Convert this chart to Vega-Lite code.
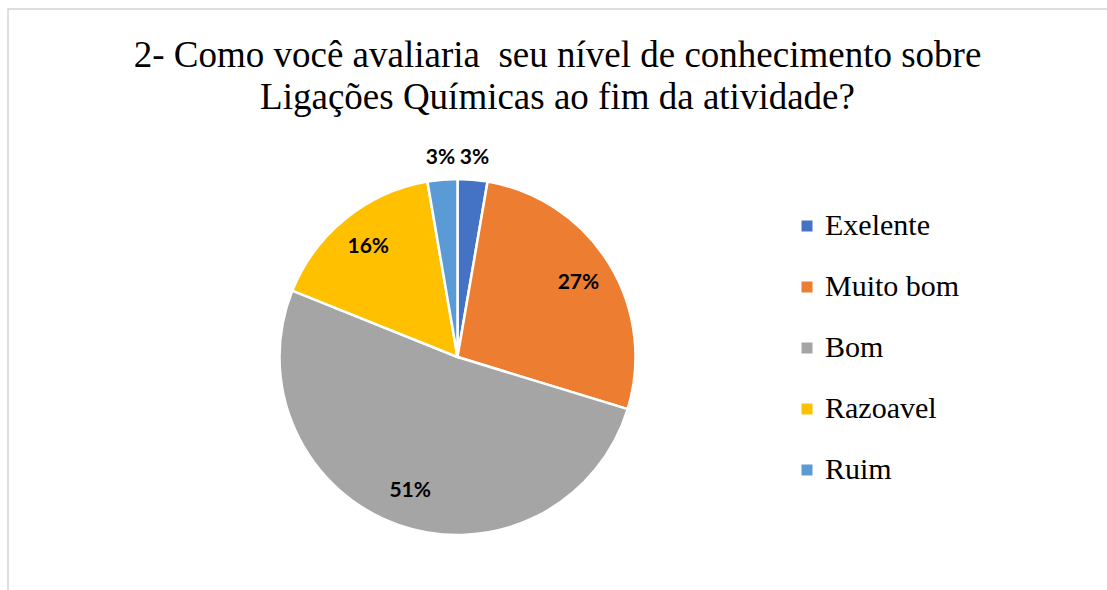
{
  "$schema": "https://vega.github.io/schema/vega-lite/v6.json",
  "width": 1099,
  "height": 581,
  "autosize": {"type": "none"},
  "padding": {"left": 8, "top": 9, "right": 0, "bottom": 0},
  "background": "white",
  "config": {
    "view": {"stroke": "#d4d4d4", "strokeWidth": 1.5, "strokeDash": [1099, 1680, 581]},
    "font": "Liberation Serif",
    "title": {"font": "Liberation Serif, Times New Roman, serif", "fontWeight": "normal"},
    "legend": {"labelFont": "Liberation Serif"}
  },
  "title": {
    "text": ["2- Como você avaliaria\u00a0 seu nível de conhecimento sobre", "Ligações Químicas ao fim da atividade?"],
    "font": "Liberation Serif, Times New Roman, serif",
    "fontSize": 37,
    "fontWeight": "normal",
    "color": "#000000",
    "lineHeight": 42,
    "anchor": "middle",
    "frame": "group",
    "offset": -108
  },
  "data": {
    "values": [
      {"cat": "Exelente", "n": 1, "ord": 1, "label": "3%"},
      {"cat": "Muito bom", "n": 10, "ord": 2, "label": "27%"},
      {"cat": "Bom", "n": 19, "ord": 3, "label": "51%"},
      {"cat": "Razoavel", "n": 6, "ord": 4, "label": "16%"},
      {"cat": "Ruim", "n": 1, "ord": 5, "label": "3%"}
    ]
  },
  "encoding": {
    "theta": {"field": "n", "type": "quantitative", "stack": true},
    "order": {"field": "ord", "type": "quantitative"},
    "x": {"value": 449.5},
    "y": {"value": 348}
  },
  "layer": [
    {
      "mark": {"type": "arc", "outerRadius": 178, "stroke": "white", "strokeWidth": 2.5},
      "encoding": {
        "color": {
          "field": "cat",
          "type": "nominal",
          "scale": {
            "domain": ["Exelente", "Muito bom", "Bom", "Razoavel", "Ruim"],
            "range": ["#4472C4", "#ED7D31", "#A5A5A5", "#FFC000", "#5B9BD5"]
          },
          "legend": {
            "title": null,
            "orient": "none",
            "legendX": 784,
            "legendY": 202,
            "padding": 0,
            "symbolType": "square",
            "symbolSize": 121,
            "symbolStrokeWidth": 0,
            "labelFont": "Liberation Serif",
            "labelFontSize": 30,
            "labelColor": "#000000",
            "labelOffset": 3,
            "rowPadding": 31,
            "labelLimit": 400
          }
        }
      }
    },
    {
      "mark": {"type": "text", "font": "Lato", "fontWeight": "bold", "fontSize": 21, "baseline": "middle", "align": "center"},
      "encoding": {
        "detail": {"field": "cat", "type": "nominal"},
        "color": {"value": "#000000"},
        "text": {"field": "label", "type": "nominal"},
        "radius": {"field": "n", "type": "quantitative", "scale": {"type": "linear", "domain": [1, 1.5], "range": [200, 142], "clamp": true, "zero": false, "nice": false}}
      }
    }
  ]
}
